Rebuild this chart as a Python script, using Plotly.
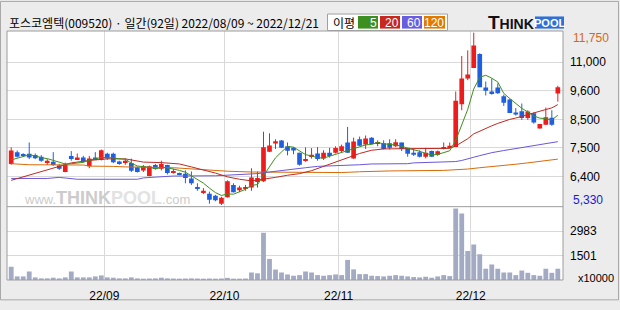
import plotly.graph_objects as go

# ---------------- data ----------------
day = list(range(92))  # trading-day index, 2022/08/09 .. 2022/12/21
month_ticks = [15.5, 35.5, 54.5, 76.5]
month_labels = ["22/09", "22/10", "22/11", "22/12"]

open_ = [6860, 7300, 7220, 7240, 7190, 7130, 6920, 6940, 6800, 6560,
         7160, 7040, 7100, 6770, 7100, 7010, 7240, 7240, 6950, 6900,
         6900, 6740, 6620, 6410, 6820, 6680, 6820, 6530, 6500, 6500,
         6320, 5980, 5810, 5750, 5680, 5380, 5620, 6080, 5880, 5930,
         5980, 6190, 6220, 7310, 7620, 7730, 7520, 7460, 7280, 6970,
         7130, 7250, 7060, 7280, 7280, 7340, 7660, 7060, 7780, 7580,
         7840, 7630, 7630, 7630, 7520, 7660, 7460, 7280, 7300, 7130,
         7340, 7200, 7420, 7470, 7490, 9080, 10040, 10430, 10950, 9710,
         9560, 9710, 9380, 9260, 8780, 8820, 8570, 8750, 8180, 8320,
         8580, 9480]
high = [7480, 7360, 7260, 7660, 7250, 7190, 7040, 7300, 6860, 6910,
        7340, 7250, 7160, 7160, 7300, 7400, 7280, 7280, 6980, 7060,
        7060, 6760, 6820, 6800, 6860, 6980, 6830, 6680, 6540, 6620,
        6580, 6140, 5960, 5830, 5710, 5640, 6250, 6140, 6050, 6080,
        6700, 6580, 8060, 8000, 7780, 7750, 7660, 7490, 7280, 7480,
        7450, 7490, 7370, 7460, 7520, 7580, 8240, 7840, 7880, 7920,
        7860, 7740, 7740, 7780, 7780, 7660, 7460, 7420, 7370, 7460,
        7360, 7360, 7660, 7660, 9560, 10880, 11090, 11750, 10980, 9930,
        10040, 9860, 9440, 9290, 8940, 9110, 8860, 8780, 8350, 8960,
        8860, 9770]
low = [6830, 7100, 7120, 7040, 7040, 6940, 6820, 6790, 6640, 6550,
       6980, 7010, 6920, 6700, 7010, 6990, 7010, 6890, 6830, 6830,
       6560, 6540, 6560, 6400, 6650, 6620, 6470, 6500, 6440, 6140,
       6080, 5860, 5740, 5380, 5470, 5330, 5610, 5800, 5810, 5860,
       5860, 5980, 6190, 7300, 7420, 7450, 7180, 7220, 6800, 6940,
       7060, 6980, 7010, 7100, 7250, 7300, 7270, 7050, 7520, 7420,
       7590, 7520, 7400, 7400, 7490, 7340, 7130, 7160, 7100, 7070,
       7120, 7160, 7400, 7450, 7490, 8860, 9980, 10430, 9720, 9410,
       9440, 9470, 9020, 8750, 8660, 8500, 8500, 8360, 8180, 8320,
       8280, 9180]
close = [7360, 7130, 7170, 7100, 7070, 6980, 6980, 6820, 6680, 6830,
         7040, 7100, 6950, 7060, 7040, 7370, 7060, 6920, 6860, 6980,
         6610, 6560, 6770, 6770, 6680, 6860, 6520, 6580, 6460, 6340,
         6140, 5930, 5860, 5530, 5510, 5600, 6220, 5810, 5980, 5960,
         6360, 6340, 7480, 7550, 7710, 7460, 7350, 7360, 6830, 7040,
         7200, 7040, 7280, 7160, 7450, 7520, 7280, 7700, 7540, 7810,
         7600, 7670, 7420, 7460, 7670, 7420, 7240, 7200, 7130, 7280,
         7130, 7330, 7480, 7540, 9210, 10040, 10190, 11270, 9720, 9590,
         9500, 9490, 9140, 8760, 8700, 8570, 8810, 8400, 8350, 8600,
         8320, 9720]
volume = [810, 220, 220, 520, 160, 100, 100, 140, 100, 160,
          520, 160, 160, 160, 220, 280, 160, 140, 100, 100,
          160, 100, 80, 90, 100, 140, 100, 90, 80, 90,
          100, 90, 80, 90, 80, 90, 130, 80, 80, 90,
          460, 410, 2890, 1290, 640, 460, 340, 260, 300, 520,
          460, 300, 260, 300, 340, 300, 1230, 650, 360, 360,
          260, 240, 220, 260, 300, 260, 220, 180, 160, 200,
          140, 220, 300, 240, 4370, 4070, 1780, 2180, 1580, 690,
          950, 690, 460, 460, 300, 580, 440, 300, 260, 690,
          440, 690]

ma5 = [7010, 7080, 7150, 7200, 7166, 7090, 7060, 6990, 6906, 6858,
       6870, 6894, 6920, 6996, 7038, 7104, 7096, 7090, 7050, 7038,
       6886, 6786, 6756, 6738, 6678, 6728, 6720, 6682, 6620, 6552,
       6408, 6290, 6146, 5960, 5794, 5686, 5744, 5734, 5824, 5914,
       6066, 6090, 6424, 6738, 7088, 7308, 7510, 7486, 7342, 7208,
       7156, 7094, 7078, 7144, 7226, 7290, 7338, 7422, 7498, 7570,
       7586, 7664, 7608, 7592, 7564, 7528, 7442, 7398, 7332, 7254,
       7196, 7214, 7270, 7352, 7738, 8320, 8892, 9650, 10086, 10162,
       10054, 9914, 9488, 9296, 9118, 8932, 8796, 8648, 8566, 8546,
       8496, 8678]
ma20_day = [0, 5, 10, 13, 16, 19, 22, 25, 28, 30, 32, 34, 36, 38, 40, 42, 44,
            46, 48, 50, 52, 54, 56, 58, 60, 62, 66, 70, 72, 73, 74, 75, 76,
            77, 78, 79, 80, 81, 82, 83, 84, 85, 86, 87, 88, 89, 90, 91]
ma20_val = [6250, 6580, 6900, 6990, 7050, 7050, 6930, 6910, 6860, 6750, 6640,
            6520, 6380, 6290, 6230, 6290, 6360, 6440, 6500, 6610, 6770, 6940,
            7110, 7250, 7370, 7420, 7430, 7420, 7420, 7440, 7530, 7660, 7800,
            7980, 8090, 8180, 8280, 8370, 8450, 8520, 8570, 8630, 8700, 8760,
            8830, 8890, 8950, 9070]
ma60_day = [0, 6, 8, 11, 21, 22, 24, 27, 34, 36, 41, 43, 45, 47, 49, 51, 54,
            56, 58, 60, 66, 67, 73, 74, 75, 76, 77, 78, 80, 82, 84, 86, 88,
            90, 91]
ma60_val = [6320, 6320, 6360, 6290, 6290, 6340, 6370, 6410, 6420, 6450, 6500,
            6560, 6620, 6670, 6720, 6770, 6790, 6800, 6830, 6860, 6870, 6900,
            6920, 6950, 6990, 7040, 7110, 7170, 7280, 7360, 7430, 7500, 7570,
            7650, 7690]
ma120_day = [0, 2, 3, 12, 13, 17, 19, 27, 29, 33, 36, 40, 46, 55, 58, 63, 72,
             74, 76, 78, 80, 82, 84, 86, 88, 90, 91]
ma120_val = [6870, 6860, 6830, 6820, 6780, 6770, 6750, 6720, 6690, 6640, 6590,
             6560, 6550, 6540, 6570, 6600, 6620, 6640, 6670, 6720, 6760, 6790,
             6850, 6900, 6960, 7020, 7040]

price_grid = [10650, 9600, 8520, 7460, 6400]
price_labels = ["11,000", "9,600", "8,500", "7,500", "6,400"]
vol_grid = [1501, 2983]
vol_labels = ["1501", "2983"]
period_high, period_low = 11750, 5330

# ---------------- styling / layout helpers ----------------
W, H = 620, 310
L, R, T, B = 7, 57, 31, 22
PW, PH = W - L - R, H - T - B
SPLIT = (H - B - 212.3) / PH  # price / volume boundary (paper)


def px(x):
    return (x - L) / PW


def py(y):
    return (H - B - y) / PH


UP, DOWN = "#ee1c1c", "#1f5fe0"
C5, C20, C60, C120 = "#3d9020", "#bf2a22", "#6a58d8", "#d96a08"
GRID = "#d9d9d9"
BORDER = "#9c9c9c"
NUM_FONT = "Liberation Sans, Arial, sans-serif"
KR_FONT = "Noto Sans CJK KR, sans-serif"

fig = go.Figure()

# wicks
for sel, col in ((lambda o, c: c >= o, UP), (lambda o, c: c < o, DOWN)):
    xs, ys = [], []
    for i in day:
        if sel(open_[i], close[i]):
            xs += [i, i, None]
            ys += [low[i], high[i], None]
    fig.add_trace(go.Scatter(x=xs, y=ys, mode="lines", line=dict(color=col, width=1),
                             hoverinfo="skip", showlegend=False, xaxis="x", yaxis="y"))

# bodies
MINB = 36
for sel, col in ((lambda o, c: c >= o, UP), (lambda o, c: c < o, DOWN)):
    idx = [i for i in day if sel(open_[i], close[i])]
    base = [min(open_[i], close[i]) for i in idx]
    hgt = [max(abs(close[i] - open_[i]), MINB) for i in idx]
    fig.add_trace(go.Bar(x=idx, y=hgt, base=base, width=0.78,
                         marker=dict(color=col, line=dict(width=0)),
                         showlegend=False, xaxis="x", yaxis="y"))

# moving averages
fig.add_trace(go.Scatter(x=ma120_day, y=ma120_val, mode="lines", line=dict(color=C120, width=1),
                         showlegend=False, xaxis="x", yaxis="y"))
fig.add_trace(go.Scatter(x=ma60_day, y=ma60_val, mode="lines", line=dict(color=C60, width=1),
                         showlegend=False, xaxis="x", yaxis="y"))
fig.add_trace(go.Scatter(x=ma20_day, y=ma20_val, mode="lines", line=dict(color=C20, width=1),
                         showlegend=False, xaxis="x", yaxis="y"))
fig.add_trace(go.Scatter(x=day, y=ma5, mode="lines", line=dict(color=C5, width=1),
                         showlegend=False, xaxis="x", yaxis="y"))

# volume
fig.add_trace(go.Bar(x=day, y=volume, width=0.8, marker=dict(color="#a3aac3", line=dict(width=0)),
                     showlegend=False, xaxis="x", yaxis="y2"))

shapes = [
    # outer frame
    dict(type="rect", xref="paper", yref="paper", x0=px(0.5), x1=px(618.5), y0=py(308.5), y1=py(0.5),
         line=dict(color="#a8a8a8", width=1), layer="below"),
    # plot frame and panel separator
    dict(type="rect", xref="paper", yref="paper", x0=0, x1=1, y0=0, y1=1,
         line=dict(color=BORDER, width=1)),
    dict(type="line", xref="paper", yref="paper", x0=0, x1=1, y0=SPLIT, y1=SPLIT,
         line=dict(color=BORDER, width=1)),
    # legend box
    dict(type="rect", xref="paper", yref="paper", x0=px(327.5), x1=px(447.5), y0=py(30.5), y1=py(13.5),
         fillcolor="white", line=dict(color="#a0a0a0", width=1)),
]
legend_items = [("5", C5, 358, 378), ("20", "#c8281e", 380, 400), ("60", "#6a5ee0", 402, 422),
                ("120", "#e07a00", 424, 445)]
annotations = []
for txt, col, x0, x1 in legend_items:
    shapes.append(dict(type="rect", xref="paper", yref="paper", x0=px(x0), x1=px(x1),
                       y0=py(28.5), y1=py(15.5), fillcolor=col, line=dict(width=0)))
    annotations.append(dict(xref="paper", yref="paper", x=px(x1 + 1), y=py(22.3), text=txt,
                            xanchor="right", yanchor="middle", showarrow=False,
                            font=dict(family=NUM_FONT, size=12, color="white")))
annotations.append(dict(xref="paper", yref="paper", x=px(331), y=py(22), text="이평",
                        xanchor="left", yanchor="middle", showarrow=False,
                        font=dict(family=KR_FONT, size=12, color="black")))

# title
annotations.append(dict(xref="paper", yref="paper", x=px(7), y=py(22.5),
                        text="포스코엠텍(009520) · 일간(92일) 2022/08/09 ~ 2022/12/21",
                        xanchor="left", yanchor="middle", showarrow=False,
                        font=dict(family=KR_FONT, size=12, color="black")))

# THINKPOOL logo
shapes.append(dict(type="rect", xref="paper", yref="paper", x0=px(535), x1=px(564),
                   y0=py(28.5), y1=py(16), fillcolor="#2f6fd8", line=dict(width=0)))
annotations.append(dict(xref="paper", yref="paper", x=px(535.5), y=py(22.3),
                        text="<b><span style='font-size:19px'>T</span>HINK</b>",
                        xanchor="right", yanchor="middle", showarrow=False,
                        font=dict(family=NUM_FONT, size=14, color="#111111")))
annotations.append(dict(xref="paper", yref="paper", x=px(549.5), y=py(22.5), text="<b>POOL</b>",
                        xanchor="center", yanchor="middle", showarrow=False,
                        font=dict(family=NUM_FONT, size=11, color="white")))

# watermark
annotations.append(dict(xref="paper", yref="paper", x=px(22), y=py(203),
                        text="www.<b><span style='font-size:18px'>THINK</span>"
                             "<span style='font-size:18px;fill:#e2e2e2'>POOL</span></b>.com",
                        xanchor="left", yanchor="middle", showarrow=False,
                        font=dict(family=NUM_FONT, size=13, color="#cccccc")))

# max / min labels and unit
annotations.append(dict(xref="paper", yref="paper", x=px(571), y=py(38.3), text=f"{period_high:,}",
                        xanchor="left", yanchor="middle", showarrow=False,
                        font=dict(family=NUM_FONT, size=12, color="#d2691e")))
annotations.append(dict(xref="paper", yref="paper", x=px(571), y=py(205.7), text=f"{period_low:,}",
                        xanchor="left", yanchor="middle", showarrow=False,
                        font=dict(family=NUM_FONT, size=12, color="#1a1ad0")))
annotations.append(dict(xref="paper", yref="paper", x=px(576), y=py(286), text="x10000",
                        xanchor="left", yanchor="middle", showarrow=False,
                        font=dict(family=NUM_FONT, size=11, color="black")))

fig.update_layout(
    width=W, height=H, margin=dict(l=L, r=R, t=T, b=B, pad=0),
    paper_bgcolor="#ececec", plot_bgcolor="white", barmode="overlay", showlegend=False,
    xaxis=dict(range=[-0.70, 91.86], anchor="y2", tickvals=month_ticks, ticktext=month_labels,
               showgrid=True, gridcolor=GRID, gridwidth=1, zeroline=False, showline=False,
               ticks="", ticklabelstandoff=7,
               tickfont=dict(family=NUM_FONT, size=12, color="black"), fixedrange=True),
    yaxis=dict(domain=[SPLIT, 1], range=[5270, 11811], side="right", anchor="x",
               tickvals=price_grid, ticktext=price_labels, showgrid=True, gridcolor=GRID,
               zeroline=False, showline=False, ticks="", ticklabelstandoff=6,
               tickfont=dict(family=NUM_FONT, size=12, color="black"), fixedrange=True),
    yaxis2=dict(domain=[0, SPLIT], range=[0, 4489], side="right", anchor="x",
                tickvals=vol_grid, ticktext=vol_labels, showgrid=True, gridcolor=GRID,
                zeroline=False, showline=False, ticks="", ticklabelstandoff=6,
                tickfont=dict(family=NUM_FONT, size=12, color="black"), fixedrange=True),
    shapes=shapes, annotations=annotations,
)

fig.write_html("out.html")
